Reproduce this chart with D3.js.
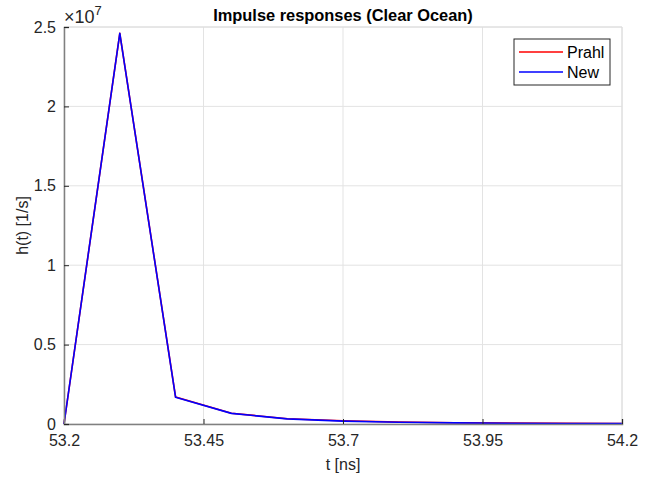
<!DOCTYPE html>
<html>
<head>
<meta charset="utf-8">
<script src="https://cdn.jsdelivr.net/npm/d3@7"></script>
<style>
  body { margin: 0; background: #fff; }
  svg { font-family: "Liberation Sans", Arial, sans-serif; }
</style>
</head>
<body>
<div id="chart"></div>
<script>
const times = [53.2, 53.3, 53.4, 53.5, 53.6, 53.7, 53.8, 53.9, 54.0, 54.1, 54.2];
const prahl = [0, 2.46e7, 1.70e6, 0.68e6, 0.33e6, 0.20e6, 0.13e6, 0.08e6, 0.055e6, 0.04e6, 0.03e6];
const newModel = [0, 2.46e7, 1.68e6, 0.67e6, 0.32e6, 0.18e6, 0.11e6, 0.07e6, 0.05e6, 0.035e6, 0.025e6];
const xTicks = [53.2, 53.45, 53.7, 53.95, 54.2];
const yTicks = [0, 0.5e7, 1e7, 1.5e7, 2e7, 2.5e7];
const seriesNames = ["Prahl", "New"];

function drawChart(containerId) {
  const W = 654, H = 478;
  const margin = { top: 27, right: 32, bottom: 54, left: 64 };
  const width = W - margin.left - margin.right;
  const height = H - margin.top - margin.bottom;

  const svg = d3.select(containerId).append("svg")
    .attr("width", W)
    .attr("height", H);

  const g = svg.append("g")
    .attr("transform", `translate(${margin.left},${margin.top})`);

  const x = d3.scaleLinear().domain([53.2, 54.2]).range([0, width]);
  const y = d3.scaleLinear().domain([0, 2.5e7]).range([height, 0]);

  // grid
  g.selectAll("line.vgrid")
    .data(xTicks)
    .enter().append("line")
    .attr("class", "vgrid")
    .attr("x1", d => x(d)).attr("x2", d => x(d))
    .attr("y1", 0).attr("y2", height)
    .attr("stroke", "#e3e3e3").attr("stroke-width", 1);

  g.selectAll("line.hgrid")
    .data(yTicks)
    .enter().append("line")
    .attr("class", "hgrid")
    .attr("x1", 0).attr("x2", width)
    .attr("y1", d => y(d)).attr("y2", d => y(d))
    .attr("stroke", "#e3e3e3").attr("stroke-width", 1);

  // top/right box
  g.append("line").attr("x1", 0).attr("x2", width).attr("y1", 0).attr("y2", 0)
    .attr("stroke", "#dcdcdc");
  g.append("line").attr("x1", width).attr("x2", width).attr("y1", 0).attr("y2", height)
    .attr("stroke", "#dcdcdc");

  // lines
  const colors = ["#ff0000", "#0000ff"];
  const allSeries = [prahl, newModel];
  allSeries.forEach((vals, i) => {
    const line = d3.line()
      .x((d, j) => x(times[j]))
      .y(d => y(d));
    g.append("path")
      .datum(vals)
      .attr("fill", "none")
      .attr("stroke", colors[i])
      .attr("stroke-width", 1.6)
      .attr("stroke-linejoin", "round")
      .attr("d", line);
  });

  // axes
  const xAxis = g.append("g")
    .attr("transform", `translate(0,${height})`)
    .call(d3.axisBottom(x).tickValues(xTicks).tickSize(-5).tickPadding(11)
      .tickFormat(d => d3.format("")(+d.toFixed(2))));
  const yAxis = g.append("g")
    .call(d3.axisLeft(y).tickValues(yTicks).tickSize(-5).tickPadding(8)
      .tickFormat(d => +(d / 1e7).toFixed(1)));

  [xAxis, yAxis].forEach(ax => {
    ax.select(".domain").attr("stroke", "#808080").attr("stroke-width", 1.5);
    ax.selectAll(".tick line").attr("stroke", "#262626");
    ax.selectAll(".tick text")
      .attr("fill", "#262626")
      .style("font-size", "16px");
  });

  // exponent
  const expo = g.append("text")
    .attr("x", 0)
    .attr("y", -4)
    .attr("fill", "#262626")
    .style("font-size", "18px");
  expo.append("tspan").text("\u00d710");
  expo.append("tspan").attr("dy", -8).style("font-size", "13px").text("7");

  // title
  svg.append("text")
    .attr("x", margin.left + width / 2)
    .attr("y", 21)
    .attr("text-anchor", "middle")
    .style("font-size", "16.4px")
    .style("font-weight", "bold")
    .attr("fill", "#000")
    .text("Impulse responses (Clear Ocean)");

  // axis labels
  svg.append("text")
    .attr("x", margin.left + width / 2)
    .attr("y", 470)
    .attr("text-anchor", "middle")
    .style("font-size", "16px")
    .attr("fill", "#262626")
    .text("t [ns]");

  svg.append("text")
    .attr("transform", `translate(28,${margin.top + height / 2}) rotate(-90)`)
    .attr("text-anchor", "middle")
    .style("font-size", "16px")
    .attr("fill", "#262626")
    .text("h(t) [1/s]");

  // legend
  const legend = svg.append("g").attr("transform", "translate(514,39)");
  legend.append("rect")
    .attr("width", 96).attr("height", 46)
    .attr("fill", "#fff").attr("stroke", "#262626").attr("stroke-width", 1);
  seriesNames.forEach((name, i) => {
    legend.append("line")
      .attr("x1", 5).attr("x2", 49)
      .attr("y1", 13 + i * 20).attr("y2", 13 + i * 20)
      .attr("stroke", colors[i]).attr("stroke-width", 1.6);
    legend.append("text")
      .attr("x", 53).attr("y", 19 + i * 20)
      .style("font-size", "16px")
      .attr("fill", "#000")
      .text(name);
  });
}

drawChart("#chart");
</script>
</body>
</html>
